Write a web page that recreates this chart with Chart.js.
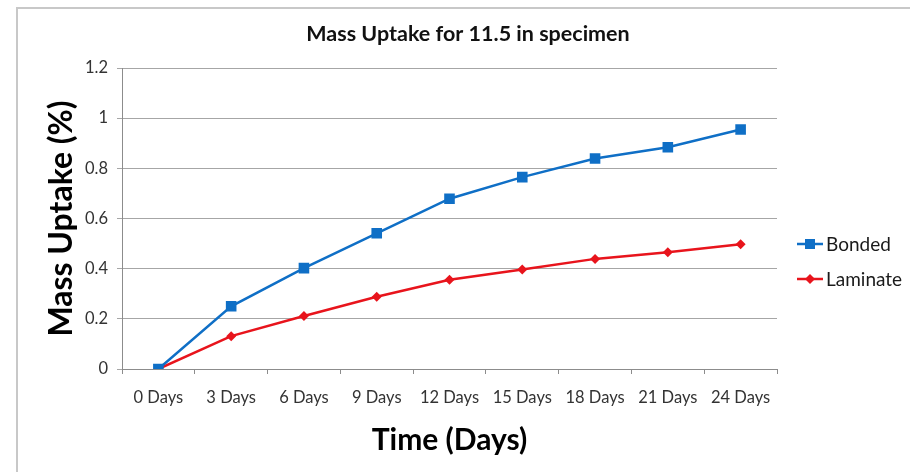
<!DOCTYPE html>
<html>
<head>
<meta charset="utf-8">
<script src="https://cdn.jsdelivr.net/npm/chart.js@4.4.1/dist/chart.umd.min.js"></script>
<style>
  html, body { margin: 0; padding: 0; background: #fff; }
  #wrap { width: 910px; height: 472px; position: relative; }
</style>
</head>
<body>
<div id="wrap"><canvas id="massChart" width="910" height="472"></canvas></div>
<script>
const days = ['0 Days', '3 Days', '6 Days', '9 Days', '12 Days', '15 Days', '18 Days', '21 Days', '24 Days'];
const bonded = [0, 0.25, 0.402, 0.541, 0.679, 0.765, 0.839, 0.884, 0.955];
const laminate = [0, 0.131, 0.211, 0.288, 0.356, 0.397, 0.439, 0.465, 0.497];
const seriesNames = ['Bonded', 'Laminate'];
const seriesColors = ['#0F6FC6', '#E8141C'];

const FONT = 'Lato, "Open Sans", sans-serif';

// white background and the grey frame round the chart
const framePlugin = {
  id: 'frame',
  beforeDraw(chart) {
    const ctx = chart.ctx;
    ctx.save();
    ctx.fillStyle = '#fff';
    ctx.fillRect(0, 0, chart.width, chart.height);
    ctx.strokeStyle = '#c8c8c8';
    ctx.lineWidth = 2;
    ctx.beginPath();
    ctx.moveTo(17, chart.height + 5);
    ctx.lineTo(17, 8);
    ctx.lineTo(chart.width + 5, 8);
    ctx.stroke();
    ctx.restore();
  },
  afterDraw(chart) {
    const ctx = chart.ctx;
    ctx.save();
    // title
    ctx.fillStyle = '#111';
    ctx.font = 'bold 21.5px ' + FONT;
    ctx.textAlign = 'center';
    ctx.textBaseline = 'middle';
    ctx.fillText('Mass Uptake for 11.5 in specimen', 468, 34);

    // legend: line with marker, then name
    const rows = [244, 279];
    chart.data.datasets.forEach((ds, i) => {
      const y = rows[i];
      ctx.strokeStyle = ds.borderColor;
      ctx.lineWidth = 2.5;
      ctx.beginPath();
      ctx.moveTo(797, y);
      ctx.lineTo(823, y);
      ctx.stroke();
      ctx.fillStyle = ds.borderColor;
      ctx.beginPath();
      if (i === 0) {
        ctx.rect(805, y - 5, 10, 10);
      } else {
        ctx.moveTo(810, y - 5);
        ctx.lineTo(815, y);
        ctx.lineTo(810, y + 5);
        ctx.lineTo(805, y);
        ctx.closePath();
      }
      ctx.fill();
      ctx.fillStyle = '#1a1a1a';
      ctx.font = '19px ' + FONT;
      ctx.textAlign = 'left';
      ctx.fillText(ds.label, 826, y + 1);
    });
    ctx.restore();
  }
};

const ctx = document.getElementById('massChart').getContext('2d');
new Chart(ctx, {
  type: 'line',
  data: {
    labels: days,
    datasets: [
      {
        label: seriesNames[0],
        data: bonded,
        borderColor: seriesColors[0],
        backgroundColor: seriesColors[0],
        borderWidth: 2.5,
        pointStyle: 'rect',
        pointRadius: 7.5,
        pointBorderWidth: 0,
        tension: 0
      },
      {
        label: seriesNames[1],
        data: laminate,
        borderColor: seriesColors[1],
        backgroundColor: seriesColors[1],
        borderWidth: 2.5,
        pointStyle: 'rectRot',
        pointRadius: 5,
        pointBorderWidth: 0,
        tension: 0
      }
    ]
  },
  options: {
    responsive: false,
    animation: false,
    layout: { padding: { left: 0, right: 133, top: 68, bottom: 0 } },
    plugins: {
      legend: { display: false },
      title: { display: false },
      tooltip: { enabled: false }
    },
    scales: {
      x: {
        offset: true,
        afterFit: (scale) => { scale.height = 103; },
        grid: { display: true, drawOnChartArea: false, drawTicks: true, tickLength: 5, offset: true, color: '#8c8c8c' },
        border: { color: '#8c8c8c', width: 1 },
        ticks: { color: '#333', font: { family: FONT, size: 16.5 }, padding: 14, maxRotation: 0, autoSkip: false },
        title: {
          display: true,
          text: 'Time (Days)',
          color: '#000',
          font: { family: FONT, size: 30, weight: 'bold' },
          padding: { top: 0, bottom: 14 }
        }
      },
      y: {
        min: 0,
        max: 1.2,
        afterFit: (scale) => { scale.width = 122; },
        grid: { color: '#a6a6a6', tickLength: 5, lineWidth: 1 },
        border: { color: '#8c8c8c', width: 1 },
        ticks: {
          stepSize: 0.2,
          color: '#333',
          font: { family: FONT, size: 16.5 },
          padding: 9,
          callback: (v) => String(Math.round(v * 10) / 10)
        },
        title: {
          display: true,
          text: 'Mass Uptake (%)',
          color: '#000',
          font: { family: FONT, size: 32, weight: 'bold' },
          padding: { top: 42, bottom: 0 }
        }
      }
    }
  },
  plugins: [framePlugin]
});
</script>
</body>
</html>
